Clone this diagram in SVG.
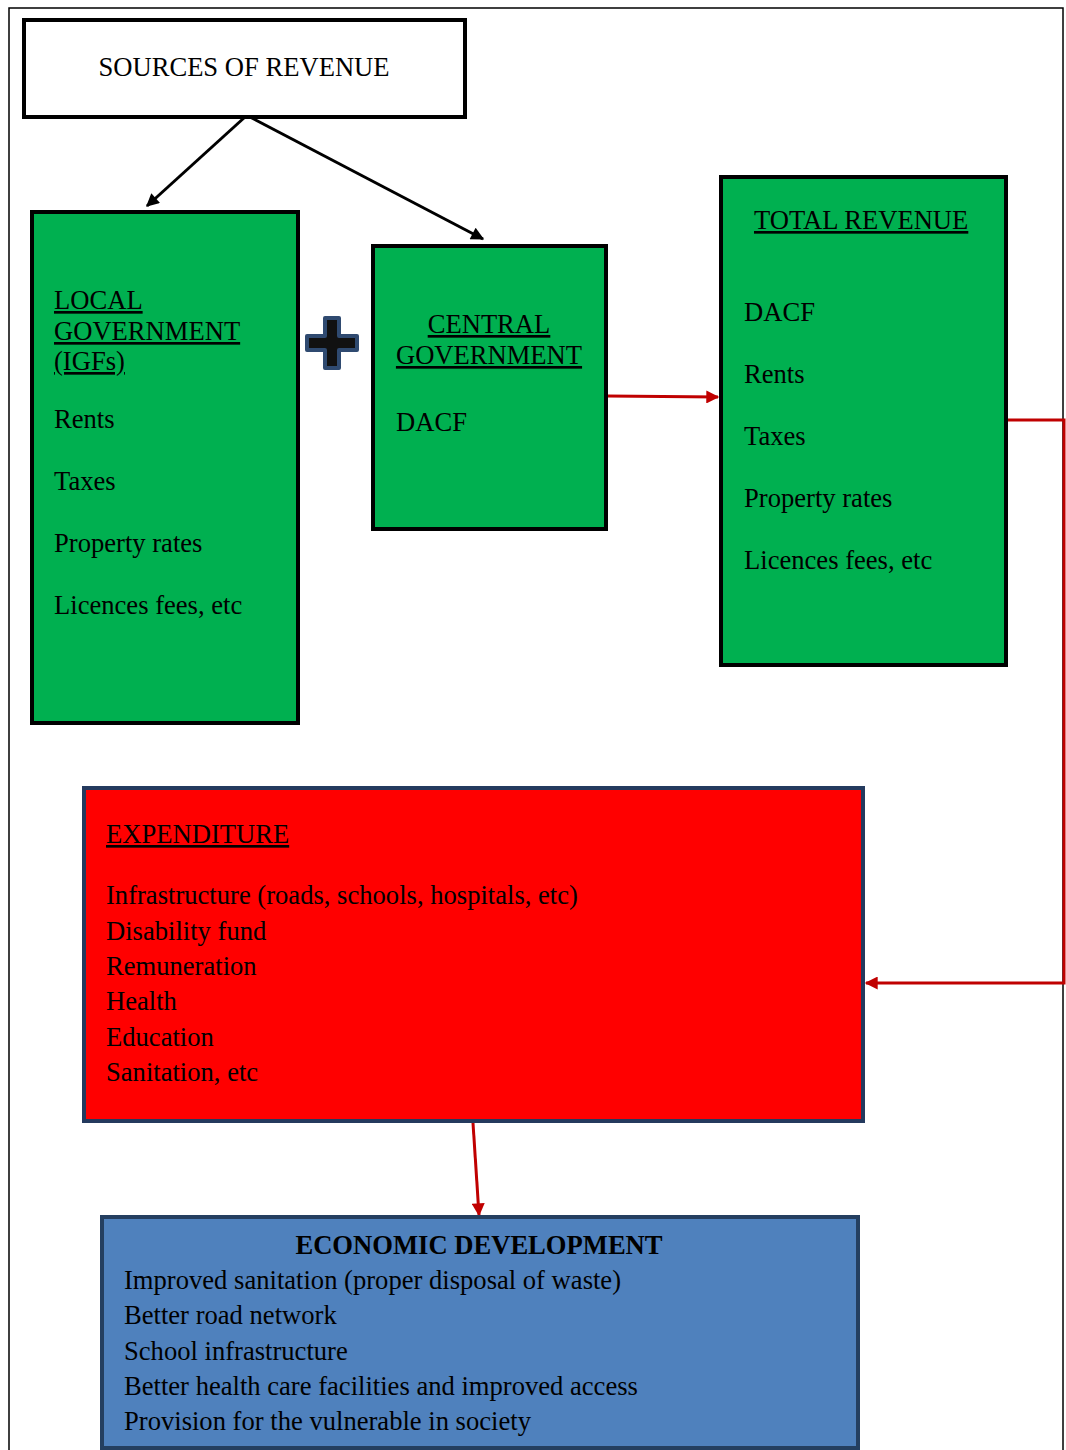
<svg xmlns="http://www.w3.org/2000/svg" width="1066" height="1450" viewBox="0 0 1066 1450">
<defs>
<style>
text{font-family:"Liberation Serif","Times New Roman",serif;font-size:26.6px;fill:#000}
.u{text-decoration:underline}
.g{fill:#00b050;stroke:#000;stroke-width:4}
.blk{stroke:#000;stroke-width:3;fill:none}
.red{stroke:#c00000;stroke-width:3;fill:none}
</style>
<marker id="ab" viewBox="0 0 10 10" refX="9" refY="5" markerWidth="17" markerHeight="13" markerUnits="userSpaceOnUse" orient="auto"><path d="M0,0L10,5L0,10z" fill="#000"/></marker>
<marker id="ar" viewBox="0 0 10 10" refX="9" refY="5" markerWidth="15" markerHeight="13" markerUnits="userSpaceOnUse" orient="auto"><path d="M0,0L10,5L0,10z" fill="#c00000"/></marker>
</defs>
<rect width="1066" height="1450" fill="#fff"/>
<rect x="9" y="8" width="1054" height="1460" fill="none" stroke="#000" stroke-width="1.5"/>
<g id="connectors">
<line x1="245" y1="117" x2="147" y2="206" class="blk" marker-end="url(#ab)"/>
<line x1="250" y1="117" x2="483" y2="239" class="blk" marker-end="url(#ab)"/>
<line x1="607" y1="396" x2="718" y2="397" class="red" marker-end="url(#ar)"/>
<polyline points="1007,420 1064,420 1064,983 866,983" class="red" marker-end="url(#ar)"/>
<line x1="473" y1="1123" x2="479" y2="1215" class="red" marker-end="url(#ar)"/>
</g>
<g id="sources">
<rect x="24" y="20" width="441" height="97" fill="#fff" stroke="#000" stroke-width="4"/>
<text x="244" y="76" text-anchor="middle">SOURCES OF REVENUE</text>
</g>
<g id="local">
<rect x="32" y="212" width="266" height="511" class="g"/>
<text x="54" y="309" class="u">LOCAL</text>
<text x="54" y="340" class="u">GOVERNMENT</text>
<text x="54" y="370" class="u">(IGFs)</text>
<text x="54" y="428">Rents</text>
<text x="54" y="490">Taxes</text>
<text x="54" y="552">Property rates</text>
<text x="54" y="614">Licences fees, etc</text>
</g>
<g id="plus">
<path d="M325,318h14v18h18v14h-18v18h-14v-18h-18v-14h18z" fill="#111" stroke="#2f4a70" stroke-width="4" stroke-linejoin="round"/>
</g>
<g id="central">
<rect x="373" y="246" width="233" height="283" class="g"/>
<text x="489" y="333" text-anchor="middle" class="u">CENTRAL</text>
<text x="489" y="364" text-anchor="middle" class="u">GOVERNMENT</text>
<text x="396" y="431">DACF</text>
</g>
<g id="total">
<rect x="721" y="177" width="285" height="488" class="g"/>
<text x="754" y="229" class="u">TOTAL REVENUE</text>
<text x="744" y="321">DACF</text>
<text x="744" y="383">Rents</text>
<text x="744" y="445">Taxes</text>
<text x="744" y="507">Property rates</text>
<text x="744" y="569">Licences fees, etc</text>
</g>
<g id="expenditure">
<rect x="84" y="788" width="779" height="333" fill="#ff0000" stroke="#243a5e" stroke-width="4"/>
<text x="106" y="843" class="u">EXPENDITURE</text>
<text x="106" y="904">Infrastructure (roads, schools, hospitals, etc)</text>
<text x="106" y="940">Disability fund</text>
<text x="106" y="975">Remuneration</text>
<text x="106" y="1010">Health</text>
<text x="106" y="1046">Education</text>
<text x="106" y="1081">Sanitation, etc</text>
</g>
<g id="economic">
<rect x="102" y="1217" width="756" height="231" fill="#4f81bd" stroke="#243f60" stroke-width="4"/>
<text x="479" y="1254" text-anchor="middle" font-weight="bold">ECONOMIC DEVELOPMENT</text>
<text x="124" y="1289">Improved sanitation (proper disposal of waste)</text>
<text x="124" y="1324">Better road network</text>
<text x="124" y="1360">School infrastructure</text>
<text x="124" y="1395">Better health care facilities and improved access</text>
<text x="124" y="1430">Provision for the vulnerable in society</text>
</g>
</svg>
